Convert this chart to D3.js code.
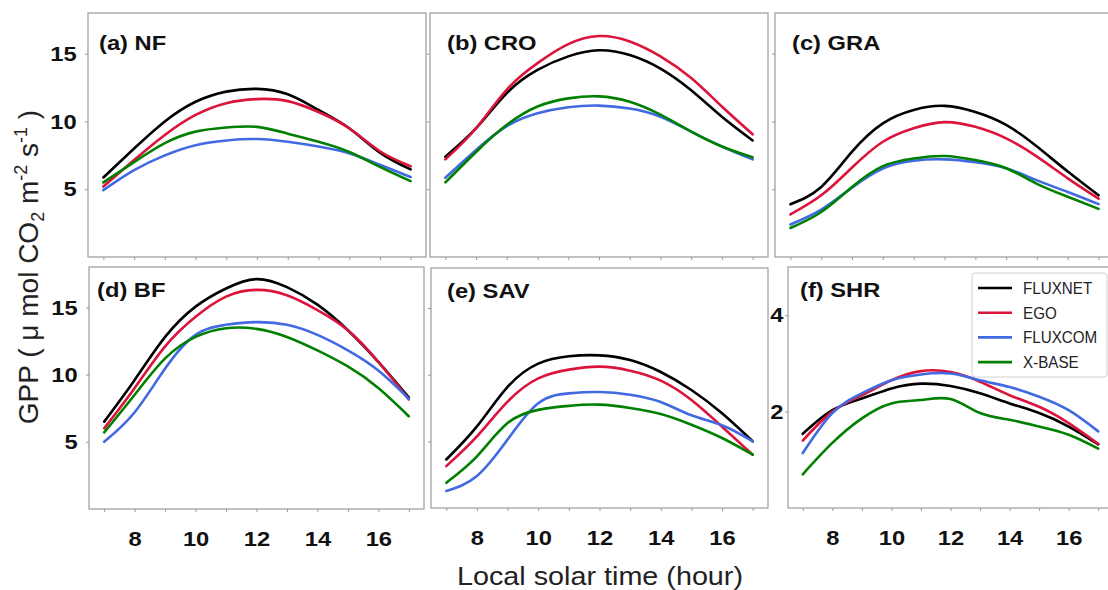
<!DOCTYPE html>
<html>
<head>
<meta charset="utf-8">
<script src="https://cdn.jsdelivr.net/npm/d3@7"></script>
<style>
  body { margin: 0; background: #fff; }
  svg { display: block; font-family: "Liberation Sans", Arial, sans-serif; }
</style>
</head>
<body>
<svg id="chart" width="1108" height="590"></svg>
<script>
// local solar time, hourly
const hours = [7, 8, 9, 10, 11, 12, 13, 14, 15, 16, 17];

const seriesNames = ["FLUXNET", "EGO", "FLUXCOM", "X-BASE"];
const seriesColors = ["#000000", "#dc143c", "#4169e1", "#008000"];

// GPP per panel, rows in seriesNames order
const gppNF = [
  [5.87, 8.0, 10.0, 11.45, 12.2, 12.4, 12.0, 10.85, 9.5, 7.7, 6.46],
  [5.2, 7.15, 9.0, 10.48, 11.35, 11.65, 11.5, 10.7, 9.5, 7.8, 6.7],
  [4.93, 6.4, 7.5, 8.25, 8.6, 8.7, 8.5, 8.15, 7.65, 6.8, 5.9],
  [5.5, 7.0, 8.4, 9.25, 9.55, 9.6, 9.1, 8.5, 7.75, 6.65, 5.6]
];
const gppCRO = [
  [7.4, 9.5, 12.1, 13.8, 14.8, 15.25, 14.9, 13.9, 12.3, 10.35, 8.6],
  [7.2, 9.5, 12.35, 14.3, 15.7, 16.3, 15.9, 14.8, 13.2, 11.1, 9.05],
  [5.85, 7.9, 9.65, 10.6, 11.05, 11.17, 10.95, 10.35, 9.25, 8.15, 7.2],
  [5.5, 7.75, 9.75, 11.1, 11.7, 11.85, 11.45, 10.5, 9.25, 8.15, 7.35]
];
const gppGRA = [
  [3.89, 5.17, 7.77, 9.86, 10.85, 11.15, 10.7, 9.75, 8.15, 6.3, 4.55],
  [3.15, 4.55, 6.6, 8.5, 9.5, 9.95, 9.6, 8.75, 7.4, 5.8, 4.3],
  [2.4, 3.5, 5.12, 6.53, 7.1, 7.2, 7.0, 6.55, 5.65, 4.8, 3.9],
  [2.14, 3.32, 5.17, 6.7, 7.27, 7.45, 7.15, 6.55, 5.4, 4.45, 3.55]
];
const gppBF = [
  [6.5, 9.6, 12.8, 15.05, 16.4, 17.1, 16.5, 15.2, 13.3, 10.95, 8.3],
  [6.0, 9.0, 12.1, 14.3, 15.8, 16.3, 15.9, 14.8, 13.3, 10.95, 8.15],
  [5.0, 7.2, 10.45, 12.95, 13.7, 13.9, 13.7, 12.95, 11.8, 10.3, 8.2],
  [5.7, 8.5, 11.2, 12.8, 13.45, 13.4, 12.8, 11.8, 10.6, 9.0, 6.9]
];
const gppSAV = [
  [3.64, 6.12, 9.09, 10.83, 11.38, 11.45, 11.1, 10.2, 8.85, 7.1, 5.0],
  [3.14, 5.37, 7.98, 9.72, 10.38, 10.6, 10.3, 9.55, 8.1, 6.1, 4.0],
  [1.28, 2.4, 5.13, 7.86, 8.6, 8.7, 8.5, 7.95, 6.95, 6.2, 5.0],
  [1.9, 3.88, 6.37, 7.36, 7.66, 7.75, 7.5, 7.05, 6.25, 5.25, 4.0]
];
const gppSHR = [
  [1.54, 2.03, 2.27, 2.48, 2.58, 2.53, 2.38, 2.17, 1.97, 1.69, 1.32],
  [1.4, 2.0, 2.34, 2.65, 2.84, 2.82, 2.62, 2.34, 2.1, 1.76, 1.33],
  [1.14, 1.97, 2.38, 2.65, 2.77, 2.79, 2.65, 2.51, 2.31, 2.03, 1.59],
  [0.7, 1.35, 1.86, 2.17, 2.24, 2.26, 1.97, 1.83, 1.69, 1.52, 1.23]
];

const xTickLabels = [8, 10, 12, 14, 16];

// layout of the six boxes
const panels = [
  { title: "(a) NF",  data: gppNF,  left: 88,  right: 426,  top: 13,  bottom: 257, yMax: 18, yTicks: [5, 10, 15], yLabels: true,  xLabels: false, titleX: 99,  yPad: 7 },
  { title: "(b) CRO", data: gppCRO, left: 430, right: 768,  top: 13,  bottom: 257, yMax: 18, yTicks: [5, 10, 15], yLabels: false, xLabels: false, titleX: 447, yPad: 7 },
  { title: "(c) GRA", data: gppGRA, left: 775, right: 1114, top: 13,  bottom: 257, yMax: 18, yTicks: [5, 10, 15], yLabels: false, xLabels: false, titleX: 792, yPad: 7 },
  { title: "(d) BF",  data: gppBF,  left: 89,  right: 424,  top: 267, bottom: 509, yMax: 18, yTicks: [5, 10, 15], yLabels: true,  xLabels: true,  titleX: 97,  yPad: 7 },
  { title: "(e) SAV", data: gppSAV, left: 431, right: 768,  top: 268, bottom: 508, yMax: 18, yTicks: [5, 10, 15], yLabels: false, xLabels: true,  titleX: 447, yPad: 7 },
  { title: "(f) SHR", data: gppSHR, left: 788, right: 1113, top: 267, bottom: 508, yMax: 5,  yTicks: [2, 4],      yLabels: true,  xLabels: true,  titleX: 800, yPad: 1 }
];

const SX = 1.13;   // the figure's text is a little wide
const frameColor = "#9a9a9a";

const svg = d3.select("#chart");

panels.forEach((p, pi) => {
  const x = d3.scaleLinear().domain([6.5, 17.5]).range([p.left, p.right]);
  const y = d3.scaleLinear().domain([0, p.yMax]).range([p.bottom, p.top]);

  const g = svg.append("g").attr("class", "panel");

  g.append("rect")
    .attr("x", p.left)
    .attr("y", p.top)
    .attr("width", p.right - p.left)
    .attr("height", p.bottom - p.top)
    .attr("fill", "none")
    .attr("stroke", frameColor)
    .attr("stroke-width", 1.2);

  // x axis
  const xAxis = d3.axisBottom(x)
    .tickValues(hours)
    .tickSize(3)
    .tickPadding(19)
    .tickFormat(d => (p.xLabels && xTickLabels.includes(d)) ? d : "");

  const gx = g.append("g")
    .attr("transform", `translate(0,${p.bottom})`)
    .call(xAxis);
  gx.select(".domain").remove();
  gx.selectAll("line").attr("stroke", frameColor);
  gx.selectAll("text")
    .attr("font-size", 21)
    .attr("font-weight", "bold")
    .attr("fill", "#111")
    .attr("font-family", "Liberation Sans, Arial, sans-serif")
    .attr("transform", `scale(${SX},1)`);

  // y axis
  const yAxis = d3.axisLeft(y)
    .tickValues(p.yTicks)
    .tickSize(3)
    .tickPadding(p.yPad)
    .tickFormat(d => p.yLabels ? d : "");

  const gy = g.append("g")
    .attr("transform", `translate(${p.left},0)`)
    .call(yAxis);
  gy.select(".domain").remove();
  gy.selectAll("line").attr("stroke", frameColor);
  gy.selectAll("text")
    .attr("font-size", 21)
    .attr("font-weight", "bold")
    .attr("fill", "#111")
    .attr("font-family", "Liberation Sans, Arial, sans-serif")
    .attr("transform", `scale(${SX},1)`);

  const line = d3.line()
    .x((d, j) => x(hours[j]))
    .y(d => y(d))
    .curve(d3.curveNatural);

  p.data.forEach((vals, i) => {
    g.append("path")
      .datum(vals)
      .attr("d", line)
      .attr("fill", "none")
      .attr("stroke", seriesColors[i])
      .attr("stroke-width", 2.6)
      .attr("stroke-linecap", "round");
  });

  g.append("text")
    .attr("transform", `translate(${p.titleX},${p.top + (pi < 3 ? 37 : 30)}) scale(${SX},1)`)
    .attr("font-size", 21)
    .attr("font-weight", "bold")
    .attr("fill", "#111")
    .text(p.title);
});

// legend, inside panel (f)
const legend = svg.append("g").attr("transform", "translate(972,273)");
legend.append("rect")
  .attr("width", 135)
  .attr("height", 104)
  .attr("rx", 3)
  .attr("fill", "#fff")
  .attr("fill-opacity", 0.85)
  .attr("stroke", "#d0d0d0");

seriesNames.forEach((name, i) => {
  const ly = 15 + i * 24.7;
  legend.append("line")
    .attr("x1", 6).attr("x2", 40)
    .attr("y1", ly).attr("y2", ly)
    .attr("stroke", seriesColors[i])
    .attr("stroke-width", 2.6);
  legend.append("text")
    .attr("transform", `translate(51,${ly + 6}) scale(0.95,1)`)
    .attr("font-size", 16)
    .attr("fill", "#222")
    .text(name);
});

// axis titles
svg.append("text")
  .attr("transform", `translate(600,585) scale(1.15,1)`)
  .attr("text-anchor", "middle")
  .attr("font-size", 25)
  .attr("fill", "#222")
  .text("Local solar time (hour)");

const yTitle = svg.append("text")
  .attr("transform", "translate(38,267) rotate(-90)")
  .attr("text-anchor", "middle")
  .attr("font-size", 28)
  .attr("fill", "#222");

yTitle.append("tspan").text("GPP ( μ mol CO");
yTitle.append("tspan").attr("font-size", 18).attr("dy", 6).text("2");
yTitle.append("tspan").attr("dy", -6).text(" m");
yTitle.append("tspan").attr("font-size", 18).attr("dy", -11).text("-2");
yTitle.append("tspan").attr("dy", 11).text(" s");
yTitle.append("tspan").attr("font-size", 18).attr("dy", -11).text("-1");
yTitle.append("tspan").attr("dy", 11).text(" )");
</script>
</body>
</html>
